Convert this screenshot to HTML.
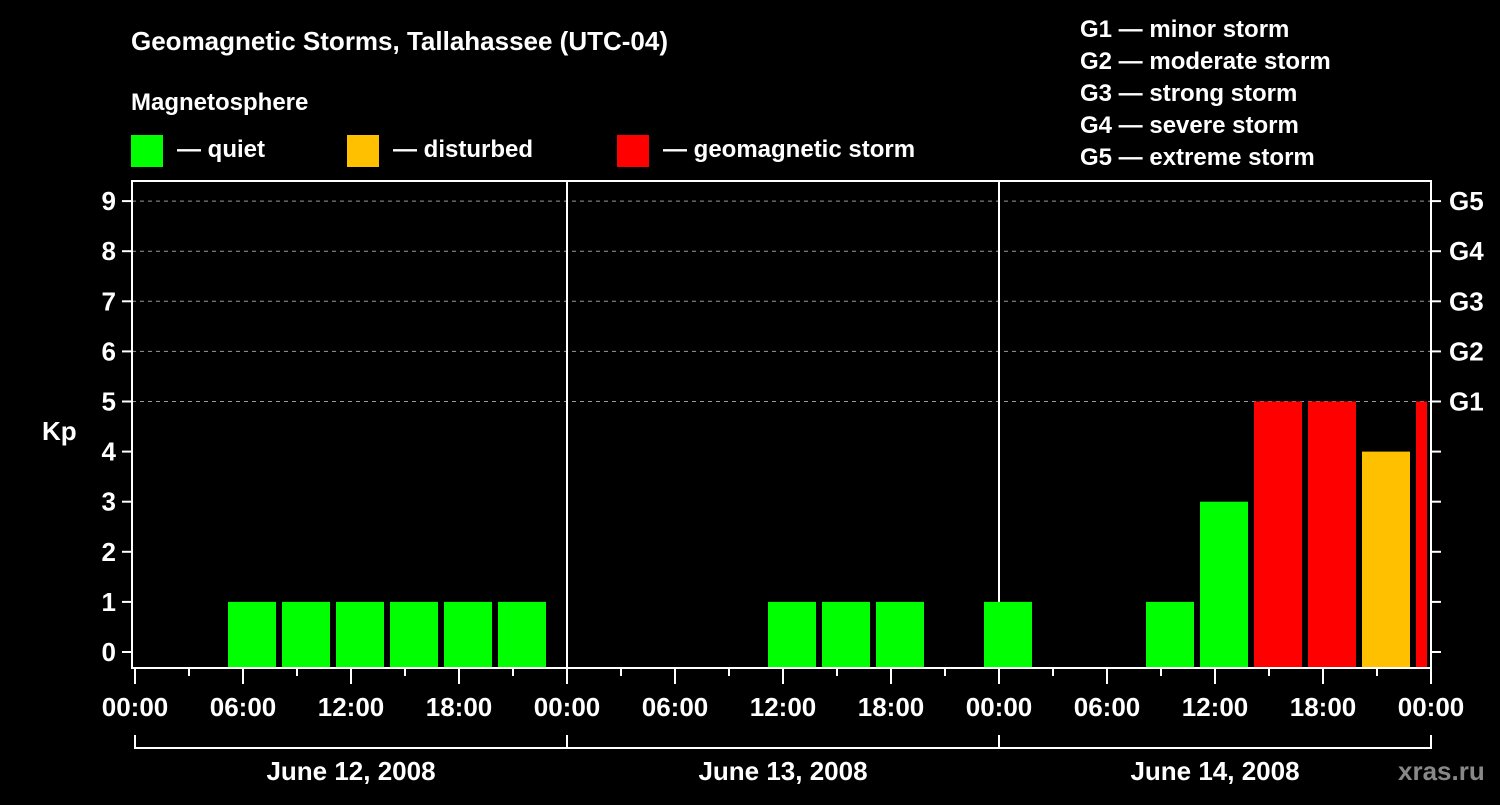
<!DOCTYPE html>
<html><head><meta charset="utf-8">
<style>
body{margin:0;background:#000;width:1500px;height:800px;overflow:hidden}
svg text{font-family:"Liberation Sans",Arial,sans-serif;font-weight:bold;fill:#fff}
</style></head><body>
<svg id="chart" width="1500" height="800" xmlns="http://www.w3.org/2000/svg">
<rect width="1500" height="800" fill="#000"/>
<text x="131" y="50" font-size="26">Geomagnetic Storms, Tallahassee (UTC-04)</text>
<text x="131" y="110" font-size="24">Magnetosphere</text>
<g><rect x="131" y="135" width="32" height="32" fill="#00ff00"/><text x="177" y="157" font-size="24">— quiet</text></g>
<g><rect x="347" y="135" width="32" height="32" fill="#ffc000"/><text x="393" y="157" font-size="24">— disturbed</text></g>
<g><rect x="617" y="135" width="32" height="32" fill="#ff0000"/><text x="663" y="157" font-size="24">— geomagnetic storm</text></g>
<g font-size="24">
<text x="1080" y="37">G1 — minor storm</text>
<text x="1080" y="69">G2 — moderate storm</text>
<text x="1080" y="101">G3 — strong storm</text>
<text x="1080" y="133">G4 — severe storm</text>
<text x="1080" y="165">G5 — extreme storm</text>
</g>
<text x="42" y="440" font-size="26">Kp</text>
<g id="grid"></g><g id="bars"></g><g id="axes"></g>
<text x="1398" y="780" font-size="26" style="fill:#888">xras.ru</text>
</svg>
<script>
const kpValues=[0,1,1,1,1,1,1,0,0,0,0,1,1,1,0,1,0,0,1,3,5,5,4,5];
const barStartHours=[2,5,8,11,14,17,20,23,26,29,32,35,38,41,44,47,50,53,56,59,62,65,68,71];
const yTicks=[0,1,2,3,4,5,6,7,8,9];
const gLabels=["G1","G2","G3","G4","G5"];
const dayLabels=["June 12, 2008","June 13, 2008","June 14, 2008"];
const NS="http://www.w3.org/2000/svg";
const X0=135,PXH=18,Y0=652,PXK=50.1,BOX={l:132,t:181,r:1431,b:668};
const xs=h=>X0+h*PXH, ys=v=>Y0-v*PXK;
function mk(p,tag,at,txt){const e=document.createElementNS(NS,tag);for(const k in at)e.setAttribute(k,at[k]);if(txt!==undefined)e.textContent=txt;p.appendChild(e);return e;}
const grid=document.getElementById('grid'),bars=document.getElementById('bars'),axes=document.getElementById('axes');
yTicks.forEach(v=>{if(v>=5){const l=mk(grid,'line',{x1:BOX.l,x2:BOX.r,y1:ys(v),y2:ys(v),stroke:'#999','stroke-dasharray':'4,4','stroke-width':1});

}});
[1,2].forEach(d=>{const l=mk(grid,'line',{x1:xs(24*d),x2:xs(24*d),y1:BOX.t,y2:BOX.b,stroke:'#fff','stroke-width':2});

});
function color(v){return v>=5?'#ff0000':v>=4?'#ffc000':'#00ff00';}
kpValues.forEach((v,i)=>{if(v<=0)return;const x1=xs(barStartHours[i])+3;let x2=xs(barStartHours[i]+3)-3;if(x2>BOX.r-4)x2=BOX.r-4;
const r=mk(bars,'rect',{x:x1,y:ys(v),width:x2-x1,height:BOX.b-ys(v),fill:color(v)});

});
const box=mk(axes,'rect',{x:BOX.l,y:BOX.t,width:BOX.r-BOX.l,height:BOX.b-BOX.t,fill:'none',stroke:'#fff','stroke-width':2});


yTicks.forEach(v=>{mk(axes,'line',{x1:122,x2:BOX.l,y1:ys(v),y2:ys(v),stroke:'#fff','stroke-width':2});
mk(axes,'line',{x1:BOX.r,x2:1441,y1:ys(v),y2:ys(v),stroke:'#fff','stroke-width':2});
const t=mk(axes,'text',{x:116,y:ys(v)+9,'font-size':26,'text-anchor':'end'},String(v));

});
gLabels.forEach((g,i)=>{const t=mk(axes,'text',{x:1449,y:ys(5+i)+9,'font-size':26},g);

});
for(let h=0;h<=72;h+=3){const major=h%6===0;mk(axes,'line',{x1:xs(h),x2:xs(h),y1:BOX.b,y2:BOX.b+(major?16:8),stroke:'#fff','stroke-width':2});
if(major){const t=mk(axes,'text',{x:xs(h),y:716,'font-size':26,'text-anchor':'middle'},String(h%24).padStart(2,'0')+':00');

}}
mk(axes,'line',{x1:xs(0),x2:xs(72),y1:748,y2:748,stroke:'#fff','stroke-width':2});
[0,24,48,72].forEach(h=>mk(axes,'line',{x1:xs(h),x2:xs(h),y1:735,y2:749,stroke:'#fff','stroke-width':2}));
dayLabels.forEach((d,i)=>{const t=mk(axes,'text',{x:xs(24*i+12),y:780,'font-size':26,'text-anchor':'middle'},d);

});
</script>
</body></html>
